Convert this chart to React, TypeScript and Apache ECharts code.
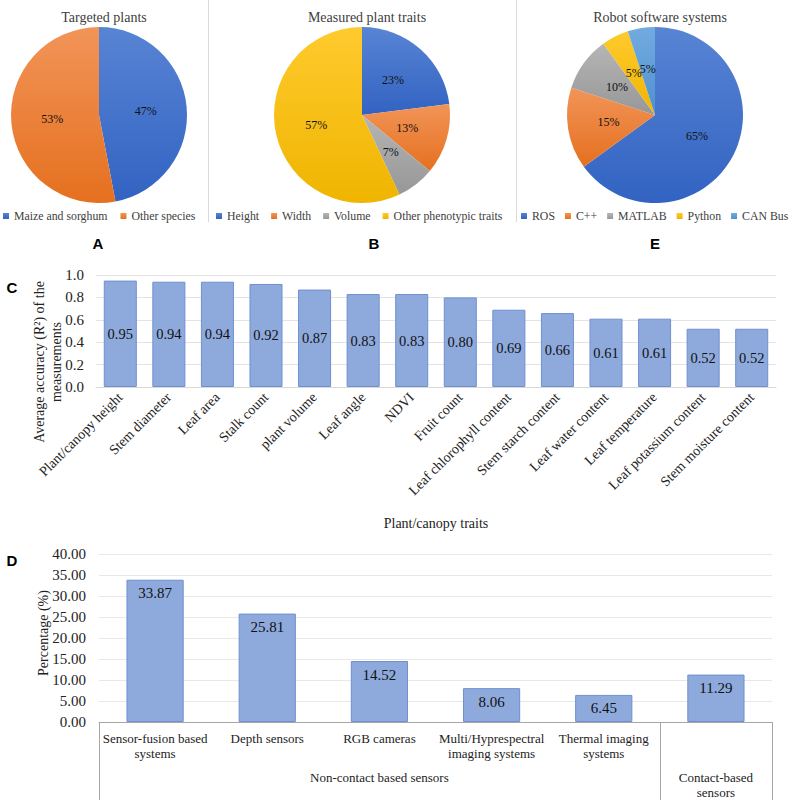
import React, { useEffect, useRef } from 'react';
import * as echarts from 'echarts';

// pies (values in %)
const plantNames = ['Maize and sorghum', 'Other species'];
const plantValues = [47, 53];
const traitPieNames = ['Height', 'Width', 'Volume', 'Other phenotypic traits'];
const traitPieValues = [23, 13, 7, 57];
const softwareNames = ['ROS', 'C++', 'MATLAB', 'Python', 'CAN Bus'];
const softwareValues = [65, 15, 10, 5, 5];

// C: accuracy per trait
const traitNames = [
    'Plant/canopy height', 'Stem diameter', 'Leaf area', 'Stalk count', 'plant volume', 'Leaf angle', 'NDVI',
    'Fruit count', 'Leaf chlorophyll content', 'Stem starch content', 'Leaf water content', 'Leaf temperature',
    'Leaf potassium content', 'Stem moisture content',
];
const traitAccuracy = [0.95, 0.94, 0.94, 0.92, 0.87, 0.83, 0.83, 0.80, 0.69, 0.66, 0.61, 0.61, 0.52, 0.52];

// D: sensors
const sensorNames = ['Sensor-fusion based\nsystems', 'Depth sensors', 'RGB cameras', 'Multi/Hyprespectral\nimaging systems', 'Thermal imaging\nsystems', ''];
const sensorShare = [33.87, 25.81, 14.52, 8.06, 6.45, 11.29];
const sensorGroups = ['Non-contact based sensors', 'Contact-based\nsensors'];
const sensorGroupSizes = [5, 1];

const serif = "'Liberation Serif', serif";
const sans = "'Liberation Sans', sans-serif";

// excel-like colours, lighter at the top
const palette = [
    ['#5884d4', '#3263c2'],
    ['#f29458', '#e5701f'],
    ['#b5b5b5', '#979797'],
    ['#ffca2e', '#efb500'],
    ['#72abe0', '#5090cf'],
];

const gridC = { left: 96, top: 275, width: 680, height: 112 };
const gridD = { left: 99, top: 554, width: 673, height: 168 };

export default function App() {
    const chartRef = useRef<HTMLDivElement>(null);

    useEffect(() => {
        if (!chartRef.current) return;
        document.body.style.margin = '0';
        const myChart = echarts.init(chartRef.current, null, { renderer: 'svg' });

        const grad = (i: number) =>
            new echarts.graphic.LinearGradient(0, 0, 0, 1, [
                { offset: 0, color: palette[i][0] },
                { offset: 1, color: palette[i][1] },
            ]);

        const pie = (names: string[], values: number[], cx: number) => ({
            type: 'pie',
            center: [cx, 115],
            radius: 88,
            startAngle: 90,
            clockwise: true,
            minShowLabelAngle: 0,
            avoidLabelOverlap: false,
            labelLayout: { hideOverlap: false },
            label: { position: 'inside', formatter: '{c}%', fontSize: 12, color: '#111', fontFamily: serif },
            labelLine: { show: false },
            emphasis: { disabled: true },
            data: names.map((n, i) => ({ name: n, value: values[i], itemStyle: { color: grad(i) } })),
        });

        const legendBase = {
            icon: 'rect',
            itemWidth: 6,
            itemHeight: 6,
            itemGap: 12,
            top: 210,
            padding: 0,
            width: 300,
            selectedMode: false,
            textStyle: { fontSize: 11.8, color: '#404040', fontFamily: serif },
        };

        // group lines / labels under chart D
        const bandW = gridD.width / sensorNames.length;
        const axisY = gridD.top + gridD.height;
        const groupGraphics: any[] = [];
        let start = 0;
        const bounds = [0];
        sensorGroupSizes.forEach((size, gi) => {
            const cx = gridD.left + (start + size / 2) * bandW;
            groupGraphics.push({
                type: 'text',
                x: cx,
                y: axisY + 48,
                style: { text: sensorGroups[gi], fontSize: 13, fontFamily: serif, fill: '#222', textAlign: 'center', textVerticalAlign: 'top', lineHeight: 15 },
            });
            start += size;
            bounds.push(start);
        });
        bounds.forEach((b) => {
            const x = Math.round(gridD.left + b * bandW) + 0.5;
            groupGraphics.push({
                type: 'line',
                shape: { x1: x, y1: axisY, x2: x, y2: 800 },
                style: { stroke: '#a6a6a6', lineWidth: 1 },
            });
        });

        const option = {
            animation: false,
            textStyle: { fontFamily: serif },
            title: [
                { text: 'Targeted plants', left: 99 },
                { text: 'Measured plant traits', left: 362 },
                { text: 'Robot software systems', left: 655 },
            ].map((t) => ({ ...t, top: 5, textAlign: 'center', textStyle: { fontSize: 14, fontWeight: 'normal', color: '#404040', fontFamily: serif } })),
            legend: [
                { ...legendBase, data: plantNames, left: 3, itemGap: 13 },
                { ...legendBase, data: traitPieNames, left: 216 },
                { ...legendBase, data: softwareNames, left: 521, itemGap: 10 },
            ],
            grid: [
                { ...gridC, containLabel: false },
                { ...gridD, containLabel: false },
            ],
            xAxis: [
                {
                    gridIndex: 0,
                    type: 'category',
                    data: traitNames,
                    axisTick: { show: false },
                    axisLine: { lineStyle: { color: '#d9d9d9' } },
                    axisLabel: { interval: 0, rotate: 45, fontSize: 14, color: '#222', margin: 8, fontFamily: serif },
                },
                {
                    gridIndex: 1,
                    type: 'category',
                    data: sensorNames,
                    axisTick: { show: false },
                    axisLine: { lineStyle: { color: '#a6a6a6' } },
                    axisLabel: { interval: 0, fontSize: 13, lineHeight: 15, color: '#222', margin: 9, fontFamily: serif },
                },
            ],
            yAxis: [
                {
                    gridIndex: 0,
                    type: 'value',
                    min: 0,
                    max: 1,
                    interval: 0.2,
                    axisLine: { show: false },
                    axisTick: { show: false },
                    splitLine: { lineStyle: { color: '#e3e3e3' } },
                    axisLabel: { formatter: (v: number) => v.toFixed(1), fontSize: 15, color: '#222', margin: 12, fontFamily: serif },
                },
                {
                    gridIndex: 1,
                    type: 'value',
                    min: 0,
                    max: 40,
                    interval: 5,
                    axisLine: { show: false },
                    axisTick: { show: false },
                    splitLine: { lineStyle: { color: '#e8e8e8' } },
                    axisLabel: { formatter: (v: number) => v.toFixed(2), fontSize: 15, color: '#222', margin: 13, fontFamily: serif },
                },
            ],
            series: [
                pie(plantNames, plantValues, 99),
                pie(traitPieNames, traitPieValues, 362),
                pie(softwareNames, softwareValues, 655),
                {
                    type: 'bar',
                    xAxisIndex: 0,
                    yAxisIndex: 0,
                    data: traitAccuracy,
                    barCategoryGap: '32%',
                    itemStyle: { color: '#8eaadc', borderColor: '#6f8fd0', borderWidth: 1 },
                    label: { show: true, position: 'inside', formatter: (p: any) => p.value.toFixed(2), fontSize: 14.5, color: '#111', fontFamily: serif },
                    emphasis: { disabled: true },
                },
                {
                    type: 'bar',
                    xAxisIndex: 1,
                    yAxisIndex: 1,
                    data: sensorShare,
                    barCategoryGap: '49%',
                    itemStyle: { color: '#8eaadc', borderColor: '#6f8fd0', borderWidth: 1 },
                    label: { show: true, position: 'insideTop', distance: 6, formatter: (p: any) => p.value.toFixed(2), fontSize: 15, color: '#111', fontFamily: serif },
                    emphasis: { disabled: true },
                },
            ],
            graphic: [
                // panel separators in the top row
                { type: 'line', shape: { x1: 208.5, y1: 0, x2: 208.5, y2: 222 }, style: { stroke: '#d9d9d9', lineWidth: 1 } },
                { type: 'line', shape: { x1: 516.5, y1: 0, x2: 516.5, y2: 222 }, style: { stroke: '#d9d9d9', lineWidth: 1 } },
                // panel letters
                ...[
                    ['A', 98, 243],
                    ['B', 374, 243],
                    ['E', 655, 243],
                    ['C', 12, 287],
                    ['D', 12, 560],
                ].map(([t, x, y]) => ({
                    type: 'text',
                    x,
                    y,
                    style: { text: t, fontSize: 15, fontWeight: 'bold', fontFamily: sans, fill: '#000', textAlign: 'center', textVerticalAlign: 'middle' },
                })),
                // axis titles
                {
                    type: 'text',
                    x: 48,
                    y: 362,
                    rotation: Math.PI / 2,
                    style: { text: 'Average accuracy (R²) of the\nmeasurements', fontSize: 14, fontFamily: serif, fill: '#222', textAlign: 'center', textVerticalAlign: 'middle', lineHeight: 17 },
                },
                {
                    type: 'text',
                    x: gridC.left + gridC.width / 2,
                    y: 523,
                    style: { text: 'Plant/canopy traits', fontSize: 14, fontFamily: serif, fill: '#222', textAlign: 'center', textVerticalAlign: 'middle' },
                },
                {
                    type: 'text',
                    x: 43,
                    y: 633,
                    rotation: Math.PI / 2,
                    style: { text: 'Percentage (%)', fontSize: 14, fontFamily: serif, fill: '#222', textAlign: 'center', textVerticalAlign: 'middle' },
                },
                ...groupGraphics,
            ],
        };

        myChart.setOption(option);

        return () => {
            myChart.dispose();
        };
    }, []);

    return <div ref={chartRef} style={{ width: '793px', height: '800px' }} />;
}
